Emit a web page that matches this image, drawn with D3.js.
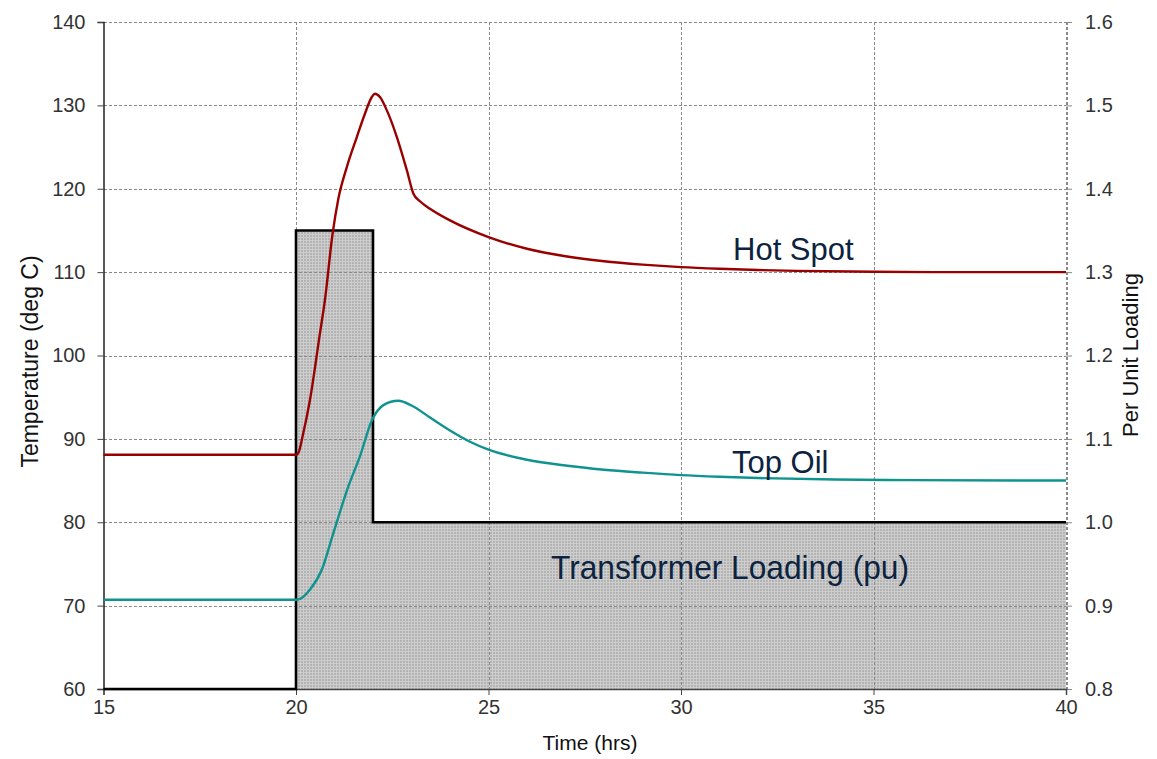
<!DOCTYPE html>
<html>
<head>
<meta charset="utf-8">
<script src="https://cdn.jsdelivr.net/npm/d3@7"></script>
<style>
  html, body { margin: 0; padding: 0; background: #fff; }
  svg { display: block; font-family: "Liberation Sans", Arial, sans-serif; }
</style>
</head>
<body>
<svg id="chart" width="1157" height="759"></svg>
<script>
// Time axis (hours) and temperature / per-unit ticks
const timeTicks = [15, 20, 25, 30, 35, 40];
const tempTicks = [60, 70, 80, 90, 100, 110, 120, 130, 140];
const puTicks = [0.8, 0.9, 1.0, 1.1, 1.2, 1.3, 1.4, 1.5, 1.6];

// Transformer loading profile (per unit), stepped after each time
const loadTime = [15, 20, 22, 40];
const loadValue = [0.8, 1.35, 1.0, 1.0];

// Hot spot temperature (deg C)
const hotSpotTime = [15, 20, 20.06, 20.19, 20.36, 20.62, 20.75, 20.95, 21.1, 21.32, 21.58, 21.79, 21.97, 22.05, 22.18, 22.36, 22.62, 22.88, 23.05, 23.22, 23.48, 24, 25, 26, 27, 28, 29, 30, 31, 32, 33, 35, 37, 40];
const hotSpotTemp = [88.1, 88.1, 88.3, 90.7, 94.6, 102.6, 106.6, 114.6, 118.8, 122.6, 126.2, 129.0, 131.0, 131.4, 131.0, 129.4, 126.2, 122.2, 119.4, 118.5, 117.6, 116.2, 114.2, 112.8, 111.9, 111.3, 110.9, 110.6, 110.4, 110.25, 110.15, 110.05, 110.0, 110.0];

// Top oil temperature (deg C)
const topOilTime = [15, 20, 20.1, 20.36, 20.67, 20.97, 21.36, 21.66, 21.97, 22.27, 22.66, 23.0, 23.5, 24.0, 24.52, 25, 26, 27, 28, 29, 30, 31, 32, 34, 36, 40];
const topOilTemp = [70.7, 70.7, 70.8, 71.9, 74.3, 78.7, 84.3, 87.9, 92.2, 94.05, 94.57, 94.0, 92.5, 91.0, 89.65, 88.7, 87.5, 86.8, 86.3, 85.95, 85.65, 85.45, 85.3, 85.12, 85.05, 85.0];

const svg = d3.select("#chart");
const plotLeft = 103.5, plotRight = 1066, plotTop = 22, plotBottom = 689;

const x = d3.scaleLinear().domain([15, 40]).range([plotLeft, plotRight]);
const yT = d3.scaleLinear().domain([60, 140]).range([plotBottom, plotTop]);
const yP = d3.scaleLinear().domain([0.8, 1.6]).range([plotBottom, plotTop]);

// Fine crosshatch texture for the loading area
const defs = svg.append("defs");
const pat = defs.append("pattern")
  .attr("id", "hatch").attr("patternUnits", "userSpaceOnUse")
  .attr("width", 3).attr("height", 3);
pat.append("rect").attr("width", 3).attr("height", 3).attr("fill", "#b3b3b3");
pat.append("rect").attr("x", 0).attr("y", 0).attr("width", 3).attr("height", 1).attr("fill", "#cdcdcd");
pat.append("rect").attr("x", 0).attr("y", 0).attr("width", 1).attr("height", 3).attr("fill", "#cdcdcd");

const loadPts = loadTime.map((t, i) => [t, loadValue[i]]);

// Loading area
svg.append("path")
  .datum(loadPts)
  .attr("d", d3.area().curve(d3.curveStepAfter)
    .x(d => x(d[0])).y0(yP(0.8)).y1(d => yP(d[1])))
  .attr("fill", "url(#hatch)");

// Grid lines
const grid = svg.append("g").attr("stroke", "#8a8a8a").attr("stroke-width", 1)
  .attr("stroke-dasharray", "3,2").attr("shape-rendering", "crispEdges");
grid.selectAll("line.h").data(tempTicks.filter(v => v > 60)).join("line")
  .attr("x1", plotLeft).attr("x2", plotRight)
  .attr("y1", d => Math.round(yT(d)) + 0.5).attr("y2", d => Math.round(yT(d)) + 0.5);
grid.selectAll("line.v").data(timeTicks.filter(v => v > 15)).join("line")
  .attr("y1", plotTop).attr("y2", plotBottom)
  .attr("x1", d => Math.round(x(d)) + 0.5).attr("x2", d => Math.round(x(d)) + 0.5)
  .attr("stroke-width", d => d === 40 ? 2 : 1);

// Left axis (temperature)
const axL = svg.append("g").attr("transform", `translate(${plotLeft},0)`)
  .call(d3.axisLeft(yT).tickValues(tempTicks).tickSize(6).tickPadding(12));
axL.select(".domain").attr("stroke", "#222").attr("stroke-width", 1.5);
axL.selectAll(".tick line").attr("stroke", "#444");
axL.selectAll("text").attr("font-size", 20).attr("fill", "#333")
  .attr("font-family", "Liberation Sans, Arial, sans-serif");

// Right axis (per unit)
const axR = svg.append("g").attr("transform", `translate(${plotRight},0)`)
  .call(d3.axisRight(yP).tickValues(puTicks).tickSize(6).tickPadding(13).tickFormat(d3.format(".1f")));
axR.select(".domain").remove();
axR.selectAll(".tick line").attr("stroke", "#888");
axR.selectAll("text").attr("font-size", 20).attr("fill", "#333")
  .attr("font-family", "Liberation Sans, Arial, sans-serif");

// Bottom axis (time)
const axB = svg.append("g").attr("transform", `translate(0,${plotBottom})`)
  .call(d3.axisBottom(x).tickValues(timeTicks).tickSize(6).tickPadding(5));
axB.select(".domain").attr("stroke", "#444").attr("stroke-width", 1.5);
axB.selectAll(".tick line").attr("stroke", "#444");
axB.selectAll("text").attr("font-size", 20).attr("fill", "#333")
  .attr("font-family", "Liberation Sans, Arial, sans-serif");

// Loading outline
svg.append("path")
  .datum(loadPts)
  .attr("d", d3.line().curve(d3.curveStepAfter).x(d => x(d[0])).y(d => yP(d[1])))
  .attr("fill", "none").attr("stroke", "#000").attr("stroke-width", 2.6);

// Temperature curves
const tempLine = d3.line().curve(d3.curveMonotoneX).x(d => x(d[0])).y(d => yT(d[1]));
svg.append("path")
  .datum(topOilTime.map((t, i) => [t, topOilTemp[i]]))
  .attr("d", tempLine).attr("fill", "none")
  .attr("stroke", "#0f9390").attr("stroke-width", 2.4);
svg.append("path")
  .datum(hotSpotTime.map((t, i) => [t, hotSpotTemp[i]]))
  .attr("d", tempLine).attr("fill", "none")
  .attr("stroke", "#990000").attr("stroke-width", 2.4);

// Series labels
const lab = svg.append("g").attr("fill", "#0c2340").attr("font-size", 31);
lab.append("text").attr("x", 733).attr("y", 260).text("Hot Spot");
lab.append("text").attr("x", 732).attr("y", 473).text("Top Oil");
lab.append("text").attr("x", 551).attr("y", 579).attr("font-size", 33)
  .attr("textLength", 358).attr("lengthAdjust", "spacingAndGlyphs").text("Transformer Loading (pu)");

// Axis titles
svg.append("text").attr("x", 590).attr("y", 750).attr("text-anchor", "middle")
  .attr("font-size", 21).attr("fill", "#111").text("Time (hrs)");
svg.append("text").attr("transform", `translate(38,${(plotTop + plotBottom) / 2 + 6}) rotate(-90)`)
  .attr("text-anchor", "middle").attr("font-size", 23).attr("fill", "#111").text("Temperature (deg C)");
svg.append("text").attr("transform", `translate(1138,355) rotate(-90)`)
  .attr("text-anchor", "middle").attr("font-size", 22).attr("fill", "#111").text("Per Unit  Loading");
</script>
</body>
</html>
